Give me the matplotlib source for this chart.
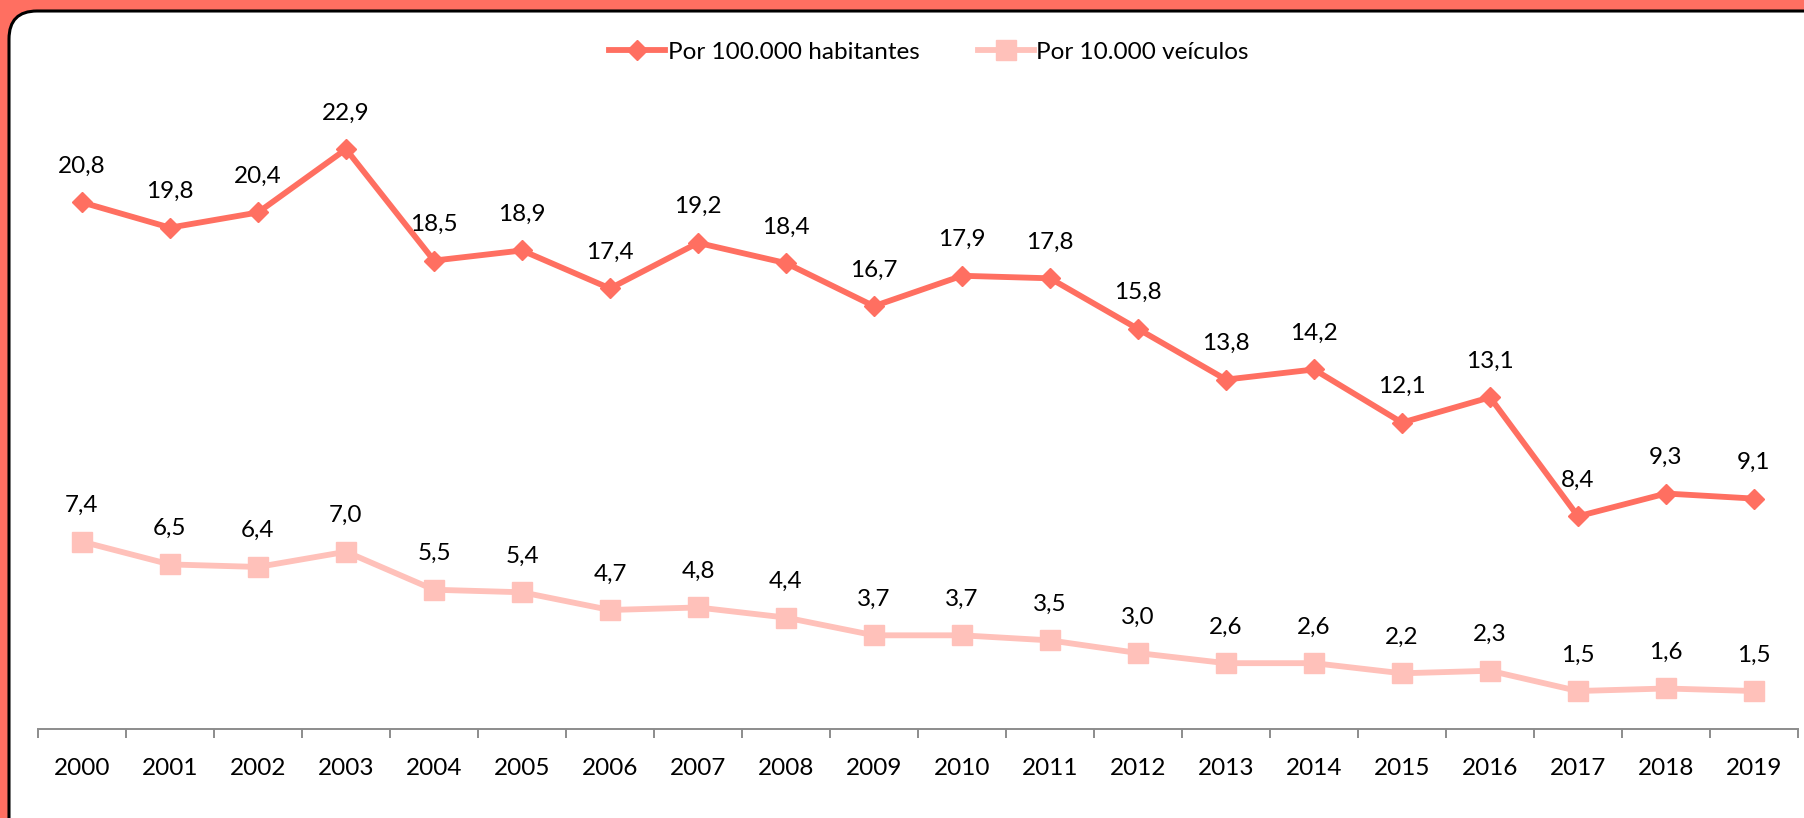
import numpy as np
import matplotlib.pyplot as plt
from matplotlib.patches import FancyBboxPatch
from matplotlib.lines import Line2D

# Data
years = [str(y) for y in range(2000, 2020)]
por_hab = [20.8, 19.8, 20.4, 22.9, 18.5, 18.9, 17.4, 19.2, 18.4, 16.7,
           17.9, 17.8, 15.8, 13.8, 14.2, 12.1, 13.1, 8.4, 9.3, 9.1]
por_veic = [7.4, 6.5, 6.4, 7.0, 5.5, 5.4, 4.7, 4.8, 4.4, 3.7,
            3.7, 3.5, 3.0, 2.6, 2.6, 2.2, 2.3, 1.5, 1.6, 1.5]

# Colours
frame_col = '#FF6F61'
hab_col = '#FF6F61'
veic_col = '#FFC1BA'

plt.rcParams['font.family'] = ['Lato', 'DejaVu Sans']
fs = 17.5

W, H, dpi = 1804, 818, 100
fig = plt.figure(figsize=(W / dpi, H / dpi), dpi=dpi)
fig.set_facecolor(frame_col)

# White rounded panel with black edge (runs off right and bottom edges)
panel = FancyBboxPatch((9 / dpi, -0.5), W / dpi + 0.5, (H - 11) / dpi + 0.5,
                       boxstyle='round,pad=0,rounding_size=0.28',
                       transform=fig.dpi_scale_trans,
                       facecolor='white', edgecolor='black', linewidth=2.2,
                       zorder=-5)
fig.add_artist(panel)

ax = fig.add_axes([38 / W, (H - 729) / H, (1798 - 38) / W, (729 - 96) / H])
ax.set_facecolor('none')
ax.set_zorder(2)

x = np.arange(len(years))
ax.plot(x, por_hab, color=hab_col, lw=4.2, marker='D', ms=10,
        solid_joinstyle='miter', zorder=3)
ax.plot(x, por_veic, color=veic_col, lw=4.2, marker='s', ms=14, zorder=3)

for xi, v in zip(x, por_hab):
    ax.annotate(f'{v:.1f}'.replace('.', ','), (xi, v), xytext=(0, 26),
                textcoords='offset points', ha='center', va='center',
                fontsize=fs, color='black')
for xi, v in zip(x, por_veic):
    ax.annotate(f'{v:.1f}'.replace('.', ','), (xi, v), xytext=(0, 26),
                textcoords='offset points', ha='center', va='center',
                fontsize=fs, color='black')

ax.set_xlim(-0.5, len(years) - 0.5)
ax.set_ylim(0, 25)

# Category axis: ticks between categories, labels centered
ax.set_xticks(np.arange(-0.5, len(years), 1.0))
ax.set_xticklabels([])
ax.set_xticks(x, minor=True)
ax.set_xticklabels(years, minor=True, fontsize=fs)
ax.tick_params(axis='x', which='major', direction='out', length=6.5,
               width=1.4, color='#8C8C8C')
ax.tick_params(axis='x', which='minor', length=0, pad=21)
ax.set_yticks([])

for s in ['top', 'right', 'left']:
    ax.spines[s].set_visible(False)
ax.spines['bottom'].set_color('#8C8C8C')
ax.spines['bottom'].set_linewidth(1.4)

handles = [Line2D([], [], color=hab_col, lw=4.2, marker='D', ms=10),
           Line2D([], [], color=veic_col, lw=4.2, marker='s', ms=14)]
leg = fig.legend(handles, ['Por 100.000 habitantes', 'Por 10.000 veículos'],
                 loc='center', bbox_to_anchor=(929 / W, 1 - 52 / H),
                 ncol=2, frameon=False, fontsize=fs, handlelength=2.3,
                 handletextpad=0.1, columnspacing=2.4)

fig.savefig('out.png', dpi=dpi, facecolor=fig.get_facecolor())
